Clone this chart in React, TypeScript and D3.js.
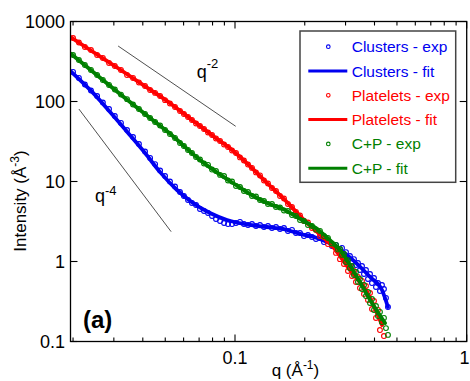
import React from "react";
import * as d3 from "d3";

// Shared q grid (Å^-1) of the measured curves
const qExp = [
  0.0200, 0.0212, 0.0225, 0.0239, 0.0254, 0.0269, 0.0286, 0.0303, 0.0322, 0.0342,
  0.0363, 0.0385, 0.0409, 0.0430, 0.0452, 0.0475, 0.0499, 0.0524, 0.0551, 0.0579,
  0.0602, 0.0627, 0.0652, 0.0679, 0.0706, 0.0735, 0.0765, 0.0796, 0.0828, 0.0862,
  0.0897, 0.0933, 0.0971, 0.1010, 0.1051, 0.1093, 0.1138, 0.1184, 0.1232, 0.1282,
  0.1334, 0.1388, 0.1444, 0.1503, 0.1564, 0.1627, 0.1693, 0.1762, 0.1833, 0.1908,
  0.1985, 0.2065, 0.2149, 0.2236, 0.2327, 0.2421, 0.2519, 0.2621, 0.2728, 0.2782,
  0.2838, 0.2896, 0.2953, 0.3013, 0.3073, 0.3134, 0.3198, 0.3262, 0.3327, 0.3394,
  0.3462, 0.3532, 0.3603, 0.3675, 0.3749, 0.3825, 0.3901, 0.3980, 0.4059, 0.4141,
  0.4223, 0.4308, 0.4394, 0.4483, 0.4573,
];

// Measured intensities (Å^-3), one value per q above
const clustersExp = [
  234, 197, 163, 137, 117, 97.2, 80.6, 65.9, 53.9, 44.0,
  36.0, 29.4, 23.7, 19.7, 16.5, 13.7, 11.7, 10.0, 8.66, 7.39,
  6.59, 5.87, 5.39, 5.08, 4.53, 4.28, 4.04, 3.71, 3.40, 3.21,
  3.03, 2.94, 2.94, 3.03, 3.12, 2.94, 2.86, 2.94, 2.78, 2.86,
  2.70, 2.78, 2.62, 2.70, 2.55, 2.62, 2.41, 2.48, 2.27, 2.27,
  2.08, 2.14, 2.02, 1.91, 1.97, 1.75, 1.80, 1.56, 1.61, 1.39,
  1.43, 1.48, 1.24, 1.31, 1.11, 1.17, 0.986, 1.07, 0.904, 0.958,
  0.783, 0.878, 0.698, 0.783, 0.604, 0.698, 0.538, 0.622, 0.480, 0.538,
  0.428, 0.508, 0.453, 0.350, 0.270,
];
const plateletsExp = [
  622, 546, 480, 440, 381, 350, 303, 278, 248, 214,
  197, 173, 156, 139, 128, 117, 104, 94.4, 85.4, 76.1,
  69.8, 64.0, 58.7, 53.1, 49.4, 45.3, 41.0, 38.1, 34.5, 32.1,
  29.0, 27.0, 24.4, 22.7, 20.0, 18.3, 16.3, 14.8, 13.0, 11.9,
  10.3, 9.44, 8.29, 7.61, 6.59, 6.13, 5.23, 4.80, 4.16, 3.76,
  3.21, 3.07, 2.62, 2.48, 2.08, 2.02, 1.65, 1.61, 1.28, 1.35,
  1.07, 1.21, 0.930, 1.01, 0.761, 0.878, 0.659, 0.761, 0.554, 0.640,
  0.466, 0.571, 0.392, 0.494, 0.330, 0.404, 0.255, 0.321, 0.197, 0.248,
  0.139, 0.175, 0.117,
];
const cpExp = [
  381, 330, 286, 248, 214, 186, 161, 141, 122, 107,
  91.7, 80.6, 69.8, 62.2, 55.4, 50.1, 44.0, 39.2, 35.0, 30.3,
  27.8, 24.8, 22.7, 20.2, 18.8, 16.8, 16.1, 14.1, 13.5, 12.1,
  11.7, 10.3, 10.0, 8.79, 8.54, 7.61, 7.39, 6.59, 6.49, 5.87,
  5.70, 5.23, 5.23, 4.80, 4.73, 4.34, 4.28, 3.81, 3.71, 3.30,
  3.21, 2.86, 2.78, 2.51, 2.41, 2.08, 1.97, 1.68, 1.61, 1.41,
  1.43, 1.21, 1.24, 0.986, 1.04, 0.829, 0.878, 0.678, 0.739, 0.554,
  0.604, 0.453, 0.508, 0.370, 0.416, 0.303, 0.340, 0.248, 0.278, 0.208,
  0.234, 0.175, 0.197, 0.147, 0.121,
];

// Model fits
const clustersFitQ = [0.0195, 0.0244, 0.0289, 0.0342, 0.0409, 0.0475, 0.0562, 0.0659, 0.0780, 0.0924, 0.116, 0.1375, 0.161, 0.191, 0.226, 0.265, 0.284, 0.323, 0.383, 0.431, 0.457];
const clustersFitI = [240, 128, 73.9, 41.9, 22.7, 13.1, 7.83, 5.38, 4.04, 3.30, 2.86, 2.70, 2.55, 2.21, 1.97, 1.61, 1.39, 1.04, 0.64, 0.44, 0.27];
const plateletsFitQ = [0.0195, 0.0237, 0.0319, 0.0430, 0.0514, 0.0640, 0.0820, 0.0971, 0.116, 0.1375, 0.1643, 0.191, 0.226, 0.265, 0.3135, 0.371, 0.431];
const plateletsFitI = [640, 440, 251, 141, 99.4, 61.3, 35.5, 24.8, 15.6, 9.58, 5.87, 3.70, 2.34, 1.52, 0.78, 0.416, 0.161];
const cpFitQ = [0.0195, 0.0237, 0.0319, 0.0430, 0.0514, 0.0706, 0.0820, 0.0980, 0.116, 0.1375, 0.161, 0.191, 0.226, 0.265, 0.284, 0.336, 0.383, 0.444];
const cpFitI = [398, 251, 124, 62.2, 41.6, 18.6, 13.5, 9.58, 6.98, 5.38, 4.53, 3.40, 2.55, 1.70, 1.39, 0.64, 0.33, 0.170];

// Power-law guide segments: [q, I] endpoints
const guideQ2 = [[0.0313, 494], [0.1007, 49]];
const guideQ4 = [[0.0212, 80.5], [0.053, 2.36]];

const yTickValues = [0.1, 1, 10, 100, 1000];
const yTickLabels = ["0.1", "1", "10", "100", "1000"];
const xTickLabels = ["0.1", "1"];

const legendLabels = [
  "Clusters - exp",
  "Clusters - fit",
  "Platelets - exp",
  "Platelets - fit",
  "C+P - exp",
  "C+P - fit",
];

const BLUE = "#0000f0";
const RED = "#ff0000";
const GREEN = "#008000";

const series = [
  { color: BLUE, exp: clustersExp, fitQ: clustersFitQ, fitI: clustersFitI },
  { color: RED, exp: plateletsExp, fitQ: plateletsFitQ, fitI: plateletsFitI },
  { color: GREEN, exp: cpExp, fitQ: cpFitQ, fitI: cpFitI },
];

const FONT = "'Liberation Sans', Arial, Helvetica, sans-serif";

export default function App() {
  const W = 470;
  const H = 381;
  const x0 = 70.5;
  const x1 = 466.7;
  const y0 = 21.5;
  const y1 = 341.5;

  const x = d3.scaleLog().domain([0.0195, 1]).range([x0, x1]);
  const y = d3.scaleLog().domain([0.1, 1000]).range([y1, y0]);

  const xTicks = x.ticks();
  const isMajor = (v: number) => Math.abs(Math.log10(v) - Math.round(Math.log10(v))) < 1e-6;

  const fitLine = d3
    .line<[number, number]>()
    .x((d) => x(d[0]))
    .y((d) => y(d[1]))
    .curve(d3.curveMonotoneX);

  const guideLine = d3
    .line<number[]>()
    .x((d) => x(d[0]))
    .y((d) => y(d[1]));

  const legendX = 300;
  const legendY = 31;
  const legendW = 155.7;
  const legendH = 151.3;
  const rowY = (i: number) => 46.7 + i * 24.3;

  return (
    <svg
      width={W}
      height={H}
      style={{ position: "absolute", left: 0, top: 0, background: "#fff" }}
      fontFamily={FONT}
    >
      <defs>
        <clipPath id="plotArea">
          <rect x={x0} y={y0} width={x1 - x0} height={y1 - y0} />
        </clipPath>
      </defs>
      <rect x={0} y={0} width={W} height={H} fill="#fff" />

      {/* guide lines */}
      <path d={guideLine(guideQ2) || ""} stroke="#222" strokeWidth={0.8} fill="none" />
      <path d={guideLine(guideQ4) || ""} stroke="#222" strokeWidth={0.8} fill="none" />

      {/* data */}
      <g clipPath="url(#plotArea)">
        {series.map((s, si) => (
          <g key={si}>
            <g fill="none" stroke={s.color} strokeWidth={1.1}>
              {s.exp.map((v, i) => (
                <circle key={i} cx={x(qExp[i])} cy={y(v)} r={2.4} />
              ))}
            </g>
            <path
              d={fitLine(s.fitQ.map((q, i) => [q, s.fitI[i]] as [number, number])) || ""}
              fill="none"
              stroke={s.color}
              strokeWidth={3.8}
              strokeLinecap="round"
            />
          </g>
        ))}
      </g>

      {/* frame */}
      <rect x={x0} y={y0} width={x1 - x0} height={y1 - y0} fill="none" stroke="#000" strokeWidth={1.3} />

      {/* x ticks, bottom and top, pointing inward */}
      {xTicks.map((t, i) => {
        const len = isMajor(t) ? 7 : 4;
        const px = x(t);
        return (
          <g key={i} stroke="#000" strokeWidth={1.1}>
            <line x1={px} x2={px} y1={y1} y2={y1 - len} />
            <line x1={px} x2={px} y1={y0} y2={y0 + len} />
          </g>
        );
      })}
      {/* y ticks, left and right */}
      {yTickValues.map((t, i) => (
        <g key={i} stroke="#000" strokeWidth={1.1}>
          <line x1={x0} x2={x0 + 7} y1={y(t)} y2={y(t)} />
          <line x1={x1} x2={x1 - 7} y1={y(t)} y2={y(t)} />
        </g>
      ))}

      {/* tick labels */}
      {yTickValues.map((t, i) => (
        <text key={i} x={65} y={y(t)} dy="0.36em" textAnchor="end" fontSize={18} fill="#000">
          {yTickLabels[i]}
        </text>
      ))}
      {[0.1, 1].map((t, i) => {
        // the last label sits at the right edge of the canvas; keep it inside
        const last = i === 1;
        return (
          <text
            key={i}
            x={last ? W - 0.5 : x(t)}
            y={364}
            textAnchor={last ? "end" : "middle"}
            fontSize={18}
            fill="#000"
          >
            {xTickLabels[i]}
          </text>
        );
      })}

      {/* axis titles */}
      <text x={271.7} y={376} fontSize={17} fill="#000">
        q (Å<tspan dy={-7} fontSize={12}>-1</tspan>
        <tspan dy={7}>)</tspan>
      </text>
      <text transform="translate(25.5,251.7) rotate(-90)" fontSize={17} fill="#000">
        Intensity (Å<tspan dy={-7} fontSize={12}>-3</tspan>
        <tspan dy={7}>)</tspan>
      </text>

      {/* power-law annotations */}
      <text x={196.7} y={77.5} fontSize={18} fill="#000">
        q<tspan dy={-9.5} fontSize={13}>-2</tspan>
      </text>
      <text x={95} y={201.5} fontSize={18} fill="#000">
        q<tspan dy={-6.5} fontSize={13}>-4</tspan>
      </text>

      {/* panel label */}
      <text x={83} y={328} fontSize={24} fontWeight="bold" fill="#000">
        (a)
      </text>

      {/* legend */}
      <rect x={legendX} y={legendY} width={legendW} height={legendH} fill="#fff" stroke="#444" strokeWidth={1.5} />
      {legendLabels.map((label, i) => {
        const s = series[Math.floor(i / 2)];
        const cy = rowY(i);
        const isExp = i % 2 === 0;
        return (
          <g key={i}>
            {isExp ? (
              <circle cx={328.3} cy={cy} r={1.8} fill="none" stroke={s.color} strokeWidth={1.1} />
            ) : (
              <line x1={308.3} x2={347.3} y1={cy} y2={cy} stroke={s.color} strokeWidth={3} />
            )}
            <text x={351.7} y={cy + 5.5} fontSize={15.5} fill={s.color}>
              {label}
            </text>
          </g>
        );
      })}
    </svg>
  );
}
